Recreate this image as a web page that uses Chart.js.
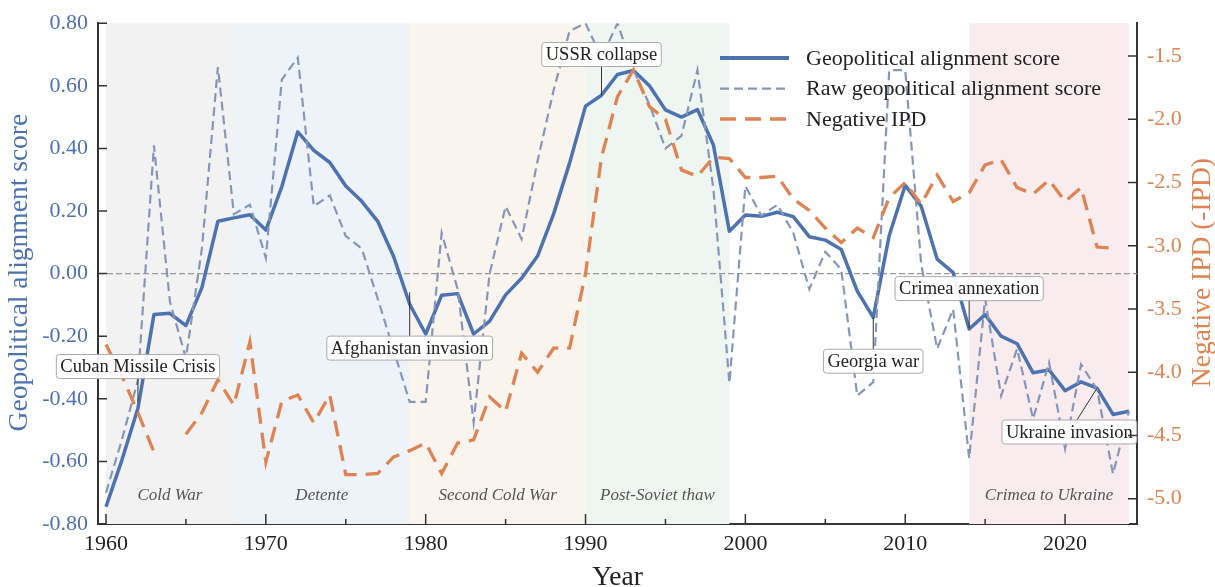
<!DOCTYPE html>
<html><head><meta charset="utf-8">
<script src="https://cdn.jsdelivr.net/npm/chart.js@4.4.1/dist/chart.umd.min.js"></script>
<style>html,body{margin:0;padding:0;background:#fff;}#wrap{width:1215px;height:587px;position:relative;}</style>
</head><body><div id="wrap"><canvas id="c" width="1215" height="587"></canvas></div>
<script>
// ---------------- DATA ----------------
const years = [1960,1961,1962,1963,1964,1965,1966,1967,1968,1969,1970,1971,1972,1973,1974,1975,1976,1977,1978,1979,
 1980,1981,1982,1983,1984,1985,1986,1987,1988,1989,1990,1991,1992,1993,1994,1995,1996,1997,1998,1999,
 2000,2001,2002,2003,2004,2005,2006,2007,2008,2009,2010,2011,2012,2013,2014,2015,2016,2017,2018,2019,
 2020,2021,2022,2023,2024];
const alignment = [-0.745,-0.595,-0.43,-0.131,-0.127,-0.166,-0.045,0.167,0.178,0.188,0.139,0.278,0.453,0.394,0.355,0.280,0.231,0.167,0.054,-0.098,
 -0.193,-0.069,-0.064,-0.193,-0.152,-0.068,-0.015,0.056,0.19,0.353,0.535,0.57,0.636,0.649,0.60,0.523,0.50,0.524,0.411,0.135,
 0.187,0.183,0.196,0.182,0.118,0.107,0.077,-0.056,-0.14,0.122,0.282,0.215,0.046,0.003,-0.177,-0.131,-0.20,-0.224,-0.317,-0.308,
 -0.374,-0.346,-0.366,-0.45,-0.44];
const rawAlignment = [-0.70,-0.53,-0.34,0.41,-0.09,-0.27,0.08,0.66,0.19,0.22,0.05,0.62,0.69,0.215,0.25,0.12,0.08,-0.08,-0.245,-0.41,
 -0.41,0.13,-0.05,-0.475,0.0,0.215,0.11,0.36,0.585,0.775,0.80,0.69,0.80,0.65,0.54,0.40,0.44,0.65,0.27,-0.35,
 0.28,0.185,0.22,0.13,-0.05,0.07,0.013,-0.39,-0.347,0.65,0.65,0.03,-0.24,-0.114,-0.59,-0.08,-0.39,-0.24,-0.464,-0.284,
 -0.56,-0.29,-0.37,-0.64,-0.44];
const negIPD = [-3.78,-4.03,-4.32,-4.63,null,-4.49,-4.32,-4.06,-4.26,-3.76,-4.71,-4.23,-4.18,-4.40,-4.18,-4.81,-4.81,-4.80,-4.67,-4.62,
 -4.56,-4.80,-4.56,-4.535,-4.195,-4.31,-3.85,-4.00,-3.81,-3.81,-3.22,-2.30,-1.82,-1.61,-1.90,-2.00,-2.40,-2.45,-2.30,-2.31,
 -2.46,-2.46,-2.45,-2.63,-2.72,-2.86,-2.975,-2.86,-2.935,-2.62,-2.50,-2.67,-2.44,-2.65,-2.58,-2.36,-2.32,-2.54,-2.59,-2.48,
 -2.65,-2.54,-3.01,-3.02,null];

const xTicks = [1960,1970,1980,1990,2000,2010,2020];
const xMinorTicks = [1965,1975,1985,1995,2005,2015];
const leftTicks = [-0.8,-0.6,-0.4,-0.2,0,0.2,0.4,0.6,0.8];
const rightTicks = [-5.0,-4.5,-4.0,-3.5,-3.0,-2.5,-2.0,-1.5];

const periodNames = ['Cold War','Detente','Second Cold War','Post-Soviet thaw','Crimea to Ukraine'];
const periodStart = [1960,1968,1979,1990,2014];
const periodEnd   = [1968,1979,1990,1999,2024];

const annTexts  = ['Cuban Missile Crisis','Afghanistan invasion','USSR collapse','Georgia war','Crimea annexation','Ukraine invasion'];
const annYears  = [1962,1979,1991,2008,2014,2022];
const annPointY = [-0.41,-0.06,0.57,-0.14,-0.175,-0.366];
const annBoxX   = [1962,1979,1991,2008,2014,2020.27];
const annBoxY   = [-0.297,-0.238,0.70,-0.28,-0.048,-0.506];

const legendLabels = ['Geopolitical alignment score','Raw geopolitical alignment score','Negative IPD'];

// ---------------- STYLE ----------------
const SERIF = "'Liberation Serif','Times New Roman',serif";
const BLUE = '#4C72B0', ORANGE = '#DD8452', RAW = '#8696b8';
const spanColors = ['#f2f2f2','#edf3f9','#f9f4ee','#eff6f1','#f9ecee'];

const pts = arr => years.map((yr,i)=>({x:yr, y:arr[i]}));

const deco = {
  id:'deco',
  beforeDatasetsDraw(chart){
    const {ctx, chartArea:a, scales:{x,y}} = chart;
    ctx.save();
    for(let i=0;i<periodNames.length;i++){
      const x0=x.getPixelForValue(periodStart[i]), x1=x.getPixelForValue(periodEnd[i]);
      ctx.fillStyle=spanColors[i];
      ctx.fillRect(x0,a.top,x1-x0,a.bottom-a.top);
    }
    const y0=y.getPixelForValue(0);
    ctx.strokeStyle='#999'; ctx.lineWidth=1.2; ctx.setLineDash([6,3]);
    ctx.beginPath(); ctx.moveTo(a.left,y0); ctx.lineTo(a.right,y0); ctx.stroke();
    ctx.setLineDash([]);
    ctx.font='italic 17px '+SERIF; ctx.fillStyle='#555'; ctx.textAlign='center'; ctx.textBaseline='middle';
    const ly=y.getPixelForValue(-0.708);
    for(let i=0;i<periodNames.length;i++){
      const xc=(x.getPixelForValue(periodStart[i])+x.getPixelForValue(periodEnd[i]))/2;
      ctx.fillText(periodNames[i],xc,ly);
    }
    ctx.restore();
  },
  afterDatasetsDraw(chart){
    const {ctx, chartArea:a, scales:{x,y}} = chart;
    ctx.save();
    ctx.font='18.5px '+SERIF;
    for(let i=0;i<annTexts.length;i++){
      const tw=ctx.measureText(annTexts[i]).width;
      const hw=tw/2+4, hh=12;
      const cx=x.getPixelForValue(annBoxX[i]), cy=y.getPixelForValue(annBoxY[i]);
      const px=x.getPixelForValue(annYears[i]), py=y.getPixelForValue(annPointY[i]);
      const dx=cx-px, dy=cy-py;
      let s=1;
      if(Math.abs(dx)>0.01) s=Math.min(s,hw/Math.abs(dx));
      if(Math.abs(dy)>0.01) s=Math.min(s,hh/Math.abs(dy));
      const ex=cx-dx*s, ey=cy-dy*s;
      ctx.strokeStyle='#333'; ctx.lineWidth=1;
      ctx.beginPath(); ctx.moveTo(px,py); ctx.lineTo(ex,ey); ctx.stroke();
      ctx.fillStyle='rgba(255,255,255,0.92)'; ctx.strokeStyle='#aaa';
      ctx.beginPath(); ctx.roundRect(cx-hw,cy-hh,2*hw,2*hh,3); ctx.fill(); ctx.stroke();
      ctx.fillStyle='#222'; ctx.textAlign='center'; ctx.textBaseline='middle';
      ctx.fillText(annTexts[i],cx,cy+1);
    }
    const lx0=720, lx1=789, tx=806, rows=[58,88.7,119];
    const styles=[{c:BLUE,w:3.8,d:[]},{c:RAW,w:2.2,d:[9,5]},{c:ORANGE,w:3.3,d:[16,9]}];
    ctx.font='22px '+SERIF; ctx.textAlign='left'; ctx.textBaseline='middle';
    for(let i=0;i<3;i++){
      ctx.strokeStyle=styles[i].c; ctx.lineWidth=styles[i].w; ctx.setLineDash(styles[i].d);
      ctx.beginPath(); ctx.moveTo(lx0,rows[i]); ctx.lineTo(lx1,rows[i]); ctx.stroke();
      ctx.setLineDash([]);
      ctx.fillStyle='#222'; ctx.fillText(legendLabels[i],tx,rows[i]+1);
    }
    ctx.restore();
  },
  afterDraw(chart){
    const {ctx, chartArea:a, scales:{x,y,y2}} = chart;
    ctx.save();
    ctx.strokeStyle='#333'; ctx.lineWidth=1.5;
    ctx.beginPath();
    leftTicks.forEach(v=>{const p=y.getPixelForValue(v); ctx.moveTo(a.left,p); ctx.lineTo(a.left+9,p);});
    rightTicks.forEach(v=>{const p=y2.getPixelForValue(v); ctx.moveTo(a.right-9,p); ctx.lineTo(a.right,p);});
    xTicks.forEach(v=>{const p=x.getPixelForValue(v); ctx.moveTo(p,a.bottom); ctx.lineTo(p,a.bottom-10);});
    xMinorTicks.forEach(v=>{const p=x.getPixelForValue(v); ctx.moveTo(p,a.bottom); ctx.lineTo(p,a.bottom-5);});
    ctx.stroke();
    ctx.font='27.5px '+SERIF; ctx.textBaseline='alphabetic'; ctx.textAlign='center';
    const cy=(a.top+a.bottom)/2-1;
    ctx.fillStyle=BLUE;
    ctx.save(); ctx.translate(27,cy); ctx.rotate(-Math.PI/2); ctx.fillText('Geopolitical alignment score',0,0); ctx.restore();
    ctx.fillStyle=ORANGE;
    ctx.save(); ctx.translate(1210,cy); ctx.rotate(-Math.PI/2); ctx.fillText('Negative IPD (-IPD)',0,0); ctx.restore();
    ctx.fillStyle='#222';
    ctx.fillText('Year',(a.left+a.right)/2,585);
    ctx.restore();
  }
};

new Chart(document.getElementById('c'),{
  type:'line',
  data:{datasets:[
    {label:legendLabels[0],data:pts(alignment),borderColor:BLUE,borderWidth:3.5,pointRadius:0,tension:0,yAxisID:'y',order:3,borderJoinStyle:'round'},
    {label:legendLabels[1],data:pts(rawAlignment),borderColor:RAW,borderWidth:2.2,borderDash:[9,5],pointRadius:0,tension:0,yAxisID:'y',order:2},
    {label:legendLabels[2],data:pts(negIPD),borderColor:ORANGE,borderWidth:3.3,borderDash:[16,9],pointRadius:0,tension:0,yAxisID:'y2',order:1,spanGaps:false}
  ]},
  options:{
    responsive:false, animation:false, devicePixelRatio:1, events:[],
    layout:{padding:{top:21,left:0,right:0,bottom:0}},
    plugins:{legend:{display:false},tooltip:{enabled:false}},
    scales:{
      x:{type:'linear',min:1959.5,max:2024.5,
        afterBuildTicks:s=>{s.ticks=xTicks.map(v=>({value:v}));},
        afterFit:s=>{s.height=63;},
        grid:{display:false,drawTicks:false},
        border:{display:true,color:'#333',width:2},
        ticks:{color:'#222',font:{family:SERIF,size:22},padding:7,maxRotation:0,autoSkip:false,callback:v=>String(v)}},
      y:{position:'left',min:-0.8,max:0.8,
        afterBuildTicks:s=>{s.ticks=leftTicks.map(v=>({value:v}));},
        afterFit:s=>{s.width=98;},
        grid:{display:false,drawTicks:false},
        border:{display:true,color:'#333',width:2},
        ticks:{color:BLUE,font:{family:SERIF,size:22},padding:10,callback:v=>Number(v).toFixed(2)}},
      y2:{position:'right',min:-5.2,max:-1.24,
        afterBuildTicks:s=>{s.ticks=rightTicks.map(v=>({value:v}));},
        afterFit:s=>{s.width=78;},
        grid:{display:false,drawTicks:false},
        border:{display:true,color:'#333',width:2},
        ticks:{color:ORANGE,font:{family:SERIF,size:22},padding:10,callback:v=>Number(v).toFixed(1)}}
    }
  },
  plugins:[deco]
});
</script></body></html>
